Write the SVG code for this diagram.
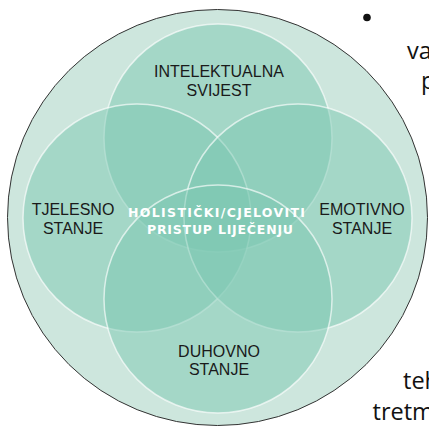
<svg xmlns="http://www.w3.org/2000/svg" width="429" height="427" viewBox="0 0 429 427">
  <style>
    .ring { fill: #7cc7b1; fill-opacity: 0.5; stroke: #ffffff; stroke-opacity: 0.65; stroke-width: 1.5; }
    .lbl { font-family: "Liberation Sans", Arial, sans-serif; font-size: 16px; fill: #1a1a1a; text-anchor: middle; }
    .ctr { font-family: "DejaVu Sans", Verdana, sans-serif; font-weight: bold; font-size: 12.5px; fill: #ffffff; text-anchor: middle; }
    .side { font-family: "Open Sans", "Liberation Sans", sans-serif; font-size: 23.5px; fill: #111111; }
  </style>
  <rect width="429" height="427" fill="#ffffff"/>
  <g id="outer">
    <ellipse cx="217.5" cy="217.5" rx="210" ry="208" fill="#cde6dd" stroke="#333333" stroke-width="1"/>
  </g>
  <g id="connectors"></g>
  <g id="intelektualna">
    <circle class="ring" cx="218" cy="138" r="114"/>
  </g>
  <g id="tjelesno">
    <circle class="ring" cx="137" cy="218" r="114"/>
  </g>
  <g id="emotivno">
    <circle class="ring" cx="298" cy="218" r="114"/>
  </g>
  <g id="duhovno">
    <circle class="ring" cx="218" cy="299" r="114"/>
  </g>
  <g id="labels">
    <text class="lbl" x="219" y="77">INTELEKTUALNA</text>
    <text class="lbl" x="219" y="96">SVIJEST</text>
    <text class="lbl" x="73" y="215">TJELESNO</text>
    <text class="lbl" x="73" y="234">STANJE</text>
    <text class="lbl" x="362" y="215">EMOTIVNO</text>
    <text class="lbl" x="362" y="234">STANJE</text>
    <text class="lbl" x="219" y="357">DUHOVNO</text>
    <text class="lbl" x="219" y="375">STANJE</text>
  </g>
  <g id="center">
    <text class="ctr" x="216.5" y="217" textLength="177" lengthAdjust="spacing">HOLISTIČKI/CJELOVITI</text>
    <text class="ctr" x="220" y="234" textLength="146" lengthAdjust="spacing">PRISTUP LIJEČENJU</text>
  </g>
  <g id="side-text">
    <circle cx="367" cy="17.5" r="3.8" fill="#111111"/>
    <text class="side" x="407" y="58.5">va</text>
    <text class="side" x="421" y="88.5">p</text>
    <text class="side" x="403" y="389">teh</text>
    <text class="side" x="372.5" y="419.5">tretm</text>
  </g>
</svg>
